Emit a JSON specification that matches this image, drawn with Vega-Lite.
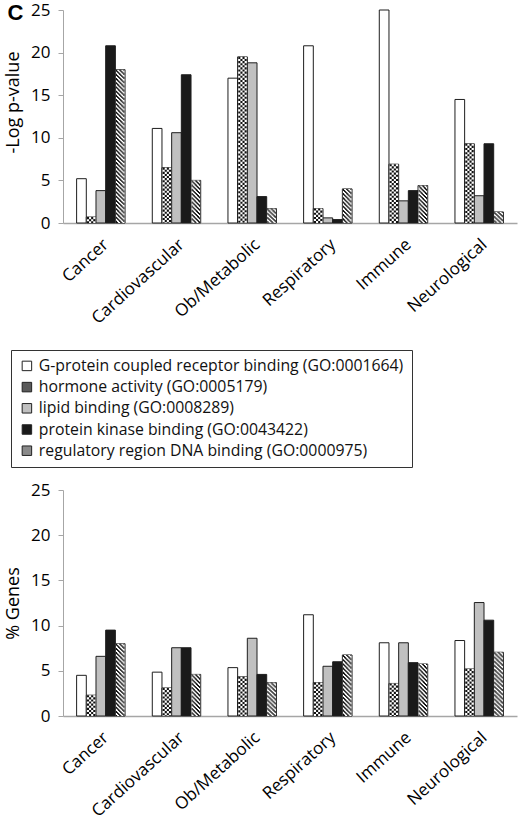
{
  "$schema": "https://vega.github.io/schema/vega-lite/v6.json",
  "padding": {"left": 4, "top": 1, "right": 3, "bottom": 0},
  "spacing": 13,
  "background": "white",
  "datasets": {
    "logp": [
      {"category": "Cancer", "term": "G-protein coupled receptor binding (GO:0001664)", "value": 5.2},
      {"category": "Cancer", "term": "hormone activity (GO:0005179)", "value": 0.7},
      {"category": "Cancer", "term": "lipid binding (GO:0008289)", "value": 3.8},
      {"category": "Cancer", "term": "protein kinase binding (GO:0043422)", "value": 20.8},
      {"category": "Cancer", "term": "regulatory region DNA binding (GO:0000975)", "value": 18.0},
      {"category": "Cardiovascular", "term": "G-protein coupled receptor binding (GO:0001664)", "value": 11.1},
      {"category": "Cardiovascular", "term": "hormone activity (GO:0005179)", "value": 6.5},
      {"category": "Cardiovascular", "term": "lipid binding (GO:0008289)", "value": 10.6},
      {"category": "Cardiovascular", "term": "protein kinase binding (GO:0043422)", "value": 17.4},
      {"category": "Cardiovascular", "term": "regulatory region DNA binding (GO:0000975)", "value": 5.0},
      {"category": "Ob/Metabolic", "term": "G-protein coupled receptor binding (GO:0001664)", "value": 17.0},
      {"category": "Ob/Metabolic", "term": "hormone activity (GO:0005179)", "value": 19.5},
      {"category": "Ob/Metabolic", "term": "lipid binding (GO:0008289)", "value": 18.8},
      {"category": "Ob/Metabolic", "term": "protein kinase binding (GO:0043422)", "value": 3.1},
      {"category": "Ob/Metabolic", "term": "regulatory region DNA binding (GO:0000975)", "value": 1.7},
      {"category": "Respiratory", "term": "G-protein coupled receptor binding (GO:0001664)", "value": 20.8},
      {"category": "Respiratory", "term": "hormone activity (GO:0005179)", "value": 1.7},
      {"category": "Respiratory", "term": "lipid binding (GO:0008289)", "value": 0.6},
      {"category": "Respiratory", "term": "protein kinase binding (GO:0043422)", "value": 0.4},
      {"category": "Respiratory", "term": "regulatory region DNA binding (GO:0000975)", "value": 4.0},
      {"category": "Immune", "term": "G-protein coupled receptor binding (GO:0001664)", "value": 25.0},
      {"category": "Immune", "term": "hormone activity (GO:0005179)", "value": 6.9},
      {"category": "Immune", "term": "lipid binding (GO:0008289)", "value": 2.6},
      {"category": "Immune", "term": "protein kinase binding (GO:0043422)", "value": 3.8},
      {"category": "Immune", "term": "regulatory region DNA binding (GO:0000975)", "value": 4.4},
      {"category": "Neurological", "term": "G-protein coupled receptor binding (GO:0001664)", "value": 14.5},
      {"category": "Neurological", "term": "hormone activity (GO:0005179)", "value": 9.3},
      {"category": "Neurological", "term": "lipid binding (GO:0008289)", "value": 3.2},
      {"category": "Neurological", "term": "protein kinase binding (GO:0043422)", "value": 9.3},
      {"category": "Neurological", "term": "regulatory region DNA binding (GO:0000975)", "value": 1.3}
    ],
    "genes": [
      {"category": "Cancer", "term": "G-protein coupled receptor binding (GO:0001664)", "value": 4.5},
      {"category": "Cancer", "term": "hormone activity (GO:0005179)", "value": 2.3},
      {"category": "Cancer", "term": "lipid binding (GO:0008289)", "value": 6.6},
      {"category": "Cancer", "term": "protein kinase binding (GO:0043422)", "value": 9.5},
      {"category": "Cancer", "term": "regulatory region DNA binding (GO:0000975)", "value": 8.0},
      {"category": "Cardiovascular", "term": "G-protein coupled receptor binding (GO:0001664)", "value": 4.85},
      {"category": "Cardiovascular", "term": "hormone activity (GO:0005179)", "value": 3.1},
      {"category": "Cardiovascular", "term": "lipid binding (GO:0008289)", "value": 7.55},
      {"category": "Cardiovascular", "term": "protein kinase binding (GO:0043422)", "value": 7.55},
      {"category": "Cardiovascular", "term": "regulatory region DNA binding (GO:0000975)", "value": 4.6},
      {"category": "Ob/Metabolic", "term": "G-protein coupled receptor binding (GO:0001664)", "value": 5.35},
      {"category": "Ob/Metabolic", "term": "hormone activity (GO:0005179)", "value": 4.35},
      {"category": "Ob/Metabolic", "term": "lipid binding (GO:0008289)", "value": 8.6},
      {"category": "Ob/Metabolic", "term": "protein kinase binding (GO:0043422)", "value": 4.6},
      {"category": "Ob/Metabolic", "term": "regulatory region DNA binding (GO:0000975)", "value": 3.7},
      {"category": "Respiratory", "term": "G-protein coupled receptor binding (GO:0001664)", "value": 11.2},
      {"category": "Respiratory", "term": "hormone activity (GO:0005179)", "value": 3.7},
      {"category": "Respiratory", "term": "lipid binding (GO:0008289)", "value": 5.5},
      {"category": "Respiratory", "term": "protein kinase binding (GO:0043422)", "value": 6.0},
      {"category": "Respiratory", "term": "regulatory region DNA binding (GO:0000975)", "value": 6.75},
      {"category": "Immune", "term": "G-protein coupled receptor binding (GO:0001664)", "value": 8.1},
      {"category": "Immune", "term": "hormone activity (GO:0005179)", "value": 3.6},
      {"category": "Immune", "term": "lipid binding (GO:0008289)", "value": 8.1},
      {"category": "Immune", "term": "protein kinase binding (GO:0043422)", "value": 5.9},
      {"category": "Immune", "term": "regulatory region DNA binding (GO:0000975)", "value": 5.75},
      {"category": "Neurological", "term": "G-protein coupled receptor binding (GO:0001664)", "value": 8.35},
      {"category": "Neurological", "term": "hormone activity (GO:0005179)", "value": 5.2},
      {"category": "Neurological", "term": "lipid binding (GO:0008289)", "value": 12.55},
      {"category": "Neurological", "term": "protein kinase binding (GO:0043422)", "value": 10.6},
      {"category": "Neurological", "term": "regulatory region DNA binding (GO:0000975)", "value": 7.05}
    ]
  },
  "resolve": {"scale": {"fill": "independent"}},
  "vconcat": [
    {
      "title": {"text": "C", "anchor": "start", "frame": "bounds", "orient": "top", "baseline": "top", "offset": -24, "dx": 3, "font": "Liberation Sans", "fontSize": 22, "fontWeight": "bold", "color": "#000"},
      "width": 454,
      "height": 213,
      "data": {"name": "logp"},
      "encoding": {
        "x": {"field": "category", "type": "nominal", "sort": ["Cancer", "Cardiovascular", "Ob/Metabolic", "Respiratory", "Immune", "Neurological"], "scale": {"paddingInner": 0.36, "paddingOuter": 0.18}, "axis": {"title": null}},
        "y": {"field": "value", "type": "quantitative", "scale": {"domain": [0, 25]}, "axis": {"title": "-Log p-value", "titleY": 92, "values": [0, 5, 10, 15, 20, 25]}},
        "y2": {"datum": 0}
      },
      "layer": [
        {
          "mark": {"type": "bar", "stroke": "#1e1e1e", "strokeWidth": 1},
          "encoding": {
            "xOffset": {"field": "term", "type": "nominal", "scale": {"paddingInner": 0, "paddingOuter": 0}},
            "fill": {"field": "term", "type": "nominal", "scale": {"range": ["#ffffff", "#5a5a5a", "#c0c0c0", "#1a1a1a", "#8a8a8a"]},
              "legend": {"orient": "none", "legendX": -52, "legendY": 340, "title": null, "direction": "vertical", "strokeColor": "#333", "padding": 8, "rowPadding": 4.2, "symbolType": "square", "symbolSize": 90, "symbolStrokeColor": "#222", "symbolStrokeWidth": 1, "labelFont": "Open Sans", "labelFontSize": 15.8, "labelColor": "#111", "labelLimit": 500, "labelOffset": 4}}
          }
        },
        {"transform": [{"filter": {"field": "term", "equal": "hormone activity (GO:0005179)"}}], "mark": {"type": "rule", "stroke": "#ffffff", "strokeWidth": 8.6}, "encoding": {"x": {"field": "category", "type": "nominal", "bandPosition": 0.3}}},
        {"transform": [{"filter": {"field": "term", "equal": "regulatory region DNA binding (GO:0000975)"}}], "mark": {"type": "rule", "stroke": "#ffffff", "strokeWidth": 8.6}, "encoding": {"x": {"field": "category", "type": "nominal", "bandPosition": 0.9}}},
        {"transform": [{"filter": {"field": "term", "equal": "hormone activity (GO:0005179)"}}], "mark": {"type": "rule", "stroke": "#111", "strokeWidth": 2.1, "strokeDash": [2.1, 2.1], "strokeDashOffset": 0}, "encoding": {"x": {"field": "category", "type": "nominal", "bandPosition": 0.23496}}},
        {"transform": [{"filter": {"field": "term", "equal": "hormone activity (GO:0005179)"}}], "mark": {"type": "rule", "stroke": "#111", "strokeWidth": 2.1, "strokeDash": [2.1, 2.1], "strokeDashOffset": 2.1}, "encoding": {"x": {"field": "category", "type": "nominal", "bandPosition": 0.27832}}},
        {"transform": [{"filter": {"field": "term", "equal": "hormone activity (GO:0005179)"}}], "mark": {"type": "rule", "stroke": "#111", "strokeWidth": 2.1, "strokeDash": [2.1, 2.1], "strokeDashOffset": 0}, "encoding": {"x": {"field": "category", "type": "nominal", "bandPosition": 0.32168}}},
        {"transform": [{"filter": {"field": "term", "equal": "hormone activity (GO:0005179)"}}], "mark": {"type": "rule", "stroke": "#111", "strokeWidth": 2.1, "strokeDash": [2.1, 2.1], "strokeDashOffset": 2.1}, "encoding": {"x": {"field": "category", "type": "nominal", "bandPosition": 0.36504}}},
        {"transform": [{"filter": {"field": "term", "equal": "regulatory region DNA binding (GO:0000975)"}}], "mark": {"type": "rule", "stroke": "#111", "strokeWidth": 1.05, "strokeDash": [2.1, 2.1], "strokeDashOffset": 0}, "encoding": {"x": {"field": "category", "type": "nominal", "bandPosition": 0.82412}}},
        {"transform": [{"filter": {"field": "term", "equal": "regulatory region DNA binding (GO:0000975)"}}], "mark": {"type": "rule", "stroke": "#111", "strokeWidth": 1.05, "strokeDash": [2.1, 2.1], "strokeDashOffset": 3.15}, "encoding": {"x": {"field": "category", "type": "nominal", "bandPosition": 0.8458}}},
        {"transform": [{"filter": {"field": "term", "equal": "regulatory region DNA binding (GO:0000975)"}}], "mark": {"type": "rule", "stroke": "#111", "strokeWidth": 1.05, "strokeDash": [2.1, 2.1], "strokeDashOffset": 2.1}, "encoding": {"x": {"field": "category", "type": "nominal", "bandPosition": 0.86748}}},
        {"transform": [{"filter": {"field": "term", "equal": "regulatory region DNA binding (GO:0000975)"}}], "mark": {"type": "rule", "stroke": "#111", "strokeWidth": 1.05, "strokeDash": [2.1, 2.1], "strokeDashOffset": 1.05}, "encoding": {"x": {"field": "category", "type": "nominal", "bandPosition": 0.88916}}},
        {"transform": [{"filter": {"field": "term", "equal": "regulatory region DNA binding (GO:0000975)"}}], "mark": {"type": "rule", "stroke": "#111", "strokeWidth": 1.05, "strokeDash": [2.1, 2.1], "strokeDashOffset": 0}, "encoding": {"x": {"field": "category", "type": "nominal", "bandPosition": 0.91084}}},
        {"transform": [{"filter": {"field": "term", "equal": "regulatory region DNA binding (GO:0000975)"}}], "mark": {"type": "rule", "stroke": "#111", "strokeWidth": 1.05, "strokeDash": [2.1, 2.1], "strokeDashOffset": 3.15}, "encoding": {"x": {"field": "category", "type": "nominal", "bandPosition": 0.93252}}},
        {"transform": [{"filter": {"field": "term", "equal": "regulatory region DNA binding (GO:0000975)"}}], "mark": {"type": "rule", "stroke": "#111", "strokeWidth": 1.05, "strokeDash": [2.1, 2.1], "strokeDashOffset": 2.1}, "encoding": {"x": {"field": "category", "type": "nominal", "bandPosition": 0.9542}}},
        {"transform": [{"filter": {"field": "term", "equal": "regulatory region DNA binding (GO:0000975)"}}], "mark": {"type": "rule", "stroke": "#111", "strokeWidth": 1.05, "strokeDash": [2.1, 2.1], "strokeDashOffset": 1.05}, "encoding": {"x": {"field": "category", "type": "nominal", "bandPosition": 0.97588}}}
      ]
    },
    {
      "width": 454,
      "height": 226,
      "data": {"name": "genes"},
      "encoding": {
        "x": {"field": "category", "type": "nominal", "sort": ["Cancer", "Cardiovascular", "Ob/Metabolic", "Respiratory", "Immune", "Neurological"], "scale": {"paddingInner": 0.36, "paddingOuter": 0.18}, "axis": {"title": null}},
        "y": {"field": "value", "type": "quantitative", "scale": {"domain": [0, 25]}, "axis": {"title": "% Genes", "values": [0, 5, 10, 15, 20, 25]}},
        "y2": {"datum": 0}
      },
      "layer": [
        {
          "mark": {"type": "bar", "stroke": "#1e1e1e", "strokeWidth": 1},
          "encoding": {
            "xOffset": {"field": "term", "type": "nominal", "scale": {"paddingInner": 0, "paddingOuter": 0}},
            "fill": {"field": "term", "type": "nominal", "scale": {"range": ["#ffffff", "#5a5a5a", "#c0c0c0", "#1a1a1a", "#8a8a8a"]}, "legend": null}
          }
        },
        {"transform": [{"filter": {"field": "term", "equal": "hormone activity (GO:0005179)"}}], "mark": {"type": "rule", "stroke": "#ffffff", "strokeWidth": 8.6}, "encoding": {"x": {"field": "category", "type": "nominal", "bandPosition": 0.3}}},
        {"transform": [{"filter": {"field": "term", "equal": "regulatory region DNA binding (GO:0000975)"}}], "mark": {"type": "rule", "stroke": "#ffffff", "strokeWidth": 8.6}, "encoding": {"x": {"field": "category", "type": "nominal", "bandPosition": 0.9}}},
        {"transform": [{"filter": {"field": "term", "equal": "hormone activity (GO:0005179)"}}], "mark": {"type": "rule", "stroke": "#111", "strokeWidth": 2.1, "strokeDash": [2.1, 2.1], "strokeDashOffset": 0}, "encoding": {"x": {"field": "category", "type": "nominal", "bandPosition": 0.23496}}},
        {"transform": [{"filter": {"field": "term", "equal": "hormone activity (GO:0005179)"}}], "mark": {"type": "rule", "stroke": "#111", "strokeWidth": 2.1, "strokeDash": [2.1, 2.1], "strokeDashOffset": 2.1}, "encoding": {"x": {"field": "category", "type": "nominal", "bandPosition": 0.27832}}},
        {"transform": [{"filter": {"field": "term", "equal": "hormone activity (GO:0005179)"}}], "mark": {"type": "rule", "stroke": "#111", "strokeWidth": 2.1, "strokeDash": [2.1, 2.1], "strokeDashOffset": 0}, "encoding": {"x": {"field": "category", "type": "nominal", "bandPosition": 0.32168}}},
        {"transform": [{"filter": {"field": "term", "equal": "hormone activity (GO:0005179)"}}], "mark": {"type": "rule", "stroke": "#111", "strokeWidth": 2.1, "strokeDash": [2.1, 2.1], "strokeDashOffset": 2.1}, "encoding": {"x": {"field": "category", "type": "nominal", "bandPosition": 0.36504}}},
        {"transform": [{"filter": {"field": "term", "equal": "regulatory region DNA binding (GO:0000975)"}}], "mark": {"type": "rule", "stroke": "#111", "strokeWidth": 1.05, "strokeDash": [2.1, 2.1], "strokeDashOffset": 0}, "encoding": {"x": {"field": "category", "type": "nominal", "bandPosition": 0.82412}}},
        {"transform": [{"filter": {"field": "term", "equal": "regulatory region DNA binding (GO:0000975)"}}], "mark": {"type": "rule", "stroke": "#111", "strokeWidth": 1.05, "strokeDash": [2.1, 2.1], "strokeDashOffset": 3.15}, "encoding": {"x": {"field": "category", "type": "nominal", "bandPosition": 0.8458}}},
        {"transform": [{"filter": {"field": "term", "equal": "regulatory region DNA binding (GO:0000975)"}}], "mark": {"type": "rule", "stroke": "#111", "strokeWidth": 1.05, "strokeDash": [2.1, 2.1], "strokeDashOffset": 2.1}, "encoding": {"x": {"field": "category", "type": "nominal", "bandPosition": 0.86748}}},
        {"transform": [{"filter": {"field": "term", "equal": "regulatory region DNA binding (GO:0000975)"}}], "mark": {"type": "rule", "stroke": "#111", "strokeWidth": 1.05, "strokeDash": [2.1, 2.1], "strokeDashOffset": 1.05}, "encoding": {"x": {"field": "category", "type": "nominal", "bandPosition": 0.88916}}},
        {"transform": [{"filter": {"field": "term", "equal": "regulatory region DNA binding (GO:0000975)"}}], "mark": {"type": "rule", "stroke": "#111", "strokeWidth": 1.05, "strokeDash": [2.1, 2.1], "strokeDashOffset": 0}, "encoding": {"x": {"field": "category", "type": "nominal", "bandPosition": 0.91084}}},
        {"transform": [{"filter": {"field": "term", "equal": "regulatory region DNA binding (GO:0000975)"}}], "mark": {"type": "rule", "stroke": "#111", "strokeWidth": 1.05, "strokeDash": [2.1, 2.1], "strokeDashOffset": 3.15}, "encoding": {"x": {"field": "category", "type": "nominal", "bandPosition": 0.93252}}},
        {"transform": [{"filter": {"field": "term", "equal": "regulatory region DNA binding (GO:0000975)"}}], "mark": {"type": "rule", "stroke": "#111", "strokeWidth": 1.05, "strokeDash": [2.1, 2.1], "strokeDashOffset": 2.1}, "encoding": {"x": {"field": "category", "type": "nominal", "bandPosition": 0.9542}}},
        {"transform": [{"filter": {"field": "term", "equal": "regulatory region DNA binding (GO:0000975)"}}], "mark": {"type": "rule", "stroke": "#111", "strokeWidth": 1.05, "strokeDash": [2.1, 2.1], "strokeDashOffset": 1.05}, "encoding": {"x": {"field": "category", "type": "nominal", "bandPosition": 0.97588}}}
      ]
    }
  ],
  "config": {
    "font": "Open Sans",
    "view": {"stroke": null},
    "axis": {"grid": false, "labelColor": "#000", "titleColor": "#000", "domainColor": "#a6a6a6", "tickColor": "#a6a6a6", "labelFontSize": 17, "titleFontSize": 18, "titleFontWeight": "normal", "labelFont": "Open Sans", "titleFont": "Open Sans"},
    "axisX": {"labelAngle": -42, "ticks": false, "labelPadding": 13, "domainWidth": 1.5},
    "axisY": {"tickSize": 5, "labelPadding": 8, "titlePadding": 8, "domainWidth": 1}
  }
}
